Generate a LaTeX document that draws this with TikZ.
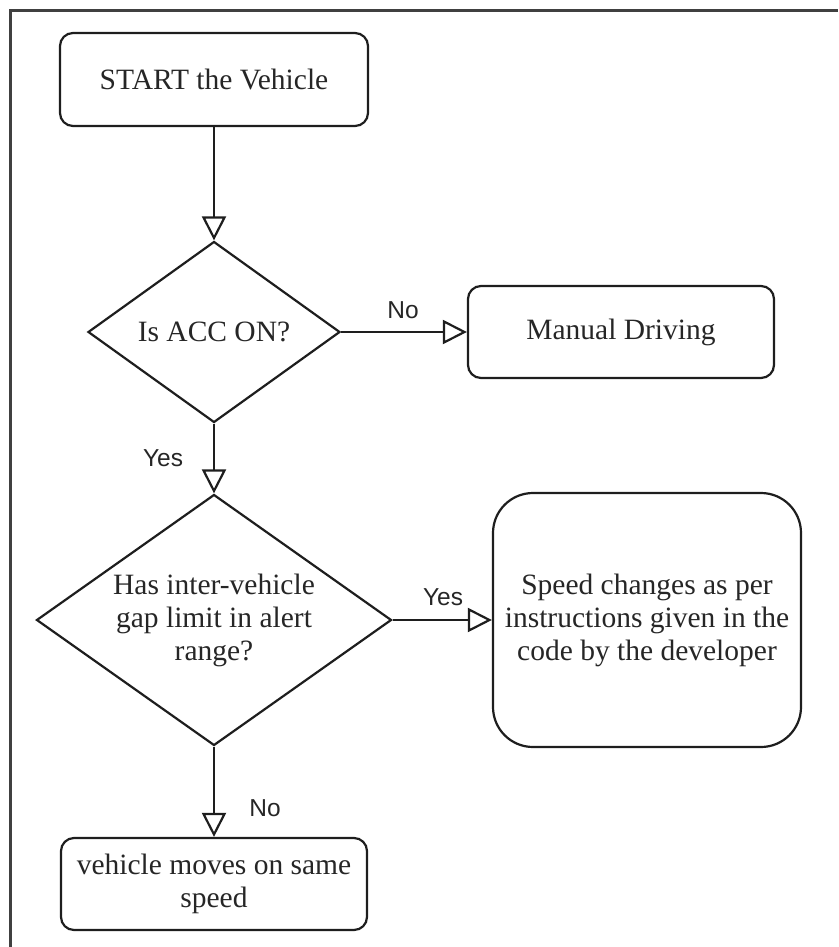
\documentclass[tikz,border=0pt]{standalone}
\usepackage{fontspec}
\setmainfont{Liberation Serif}
\newfontfamily\lblfont{Liberation Sans}
\usetikzlibrary{shapes.geometric,arrows.meta}

\definecolor{ink}{HTML}{1E1E1E}
\definecolor{txt}{HTML}{262626}

\tikzset{
  base/.style={draw=ink, line width=2.2pt, text=txt, inner sep=0pt,
    font=\fontsize{29.5}{33}\selectfont, align=center},
  procbox/.style={base, rectangle, rounded corners=13pt},
  bigbox/.style={base, rectangle, rounded corners=40pt},
  decision/.style={base, diamond},
  flow/.style={draw=ink, line width=2.2pt,
    -{Triangle[open, length=24pt, width=24pt]}},
  lbl/.style={text=txt, font=\lblfont\fontsize{24.5}{28}\selectfont, inner sep=0pt},
  frame/.style={draw=ink!85, line width=2.6pt}
}

\begin{document}
\begin{tikzpicture}[x=1pt, y=-1pt]
  \useasboundingbox (0,0) rectangle (838,947);

  % open frame: left and top edges only
  \draw[frame] (10.5,947) -- (10.5,10.5) -- (838,10.5);

  % process steps
  \node[procbox, minimum width=308pt, minimum height=93pt] (start) at (214,79.5) {START the Vehicle};
  \node[procbox, minimum width=306pt, minimum height=92pt] (manual) at (621,332) {Manual Driving};
  \node[bigbox, minimum width=308pt, minimum height=254pt] (speed) at (647,620)
    {Speed changes as per\\instructions given in the\\code by the developer};
  \node[procbox, minimum width=306pt, minimum height=92pt] (same) at (214,884)
    {vehicle moves on same\\speed};

  % decisions
  \node[decision, aspect=1.39, minimum width=252pt, minimum height=181pt] (acc) at (214,332) {Is ACC ON?};
  \node[decision, aspect=1.41, minimum width=355pt, minimum height=251pt] (gap) at (214,620)
    {Has inter-vehicle\\gap limit in alert\\range?};

  % connectors
  \draw[flow] (start.south) -- (acc.north);
  \draw[flow] (acc.east) -- (manual.west);
  \draw[flow] (acc.south) -- (gap.north);
  \draw[flow] (gap.east) -- (speed.west);
  \draw[flow] (gap.south) -- (same.north);

  % branch labels
  \node[lbl] (noA) at (403,310) {No};
  \node[lbl] (yesA) at (163,458) {Yes};
  \node[lbl] (yesB) at (443,597) {Yes};
  \node[lbl] (noB) at (265,808) {No};
\end{tikzpicture}
\end{document}
